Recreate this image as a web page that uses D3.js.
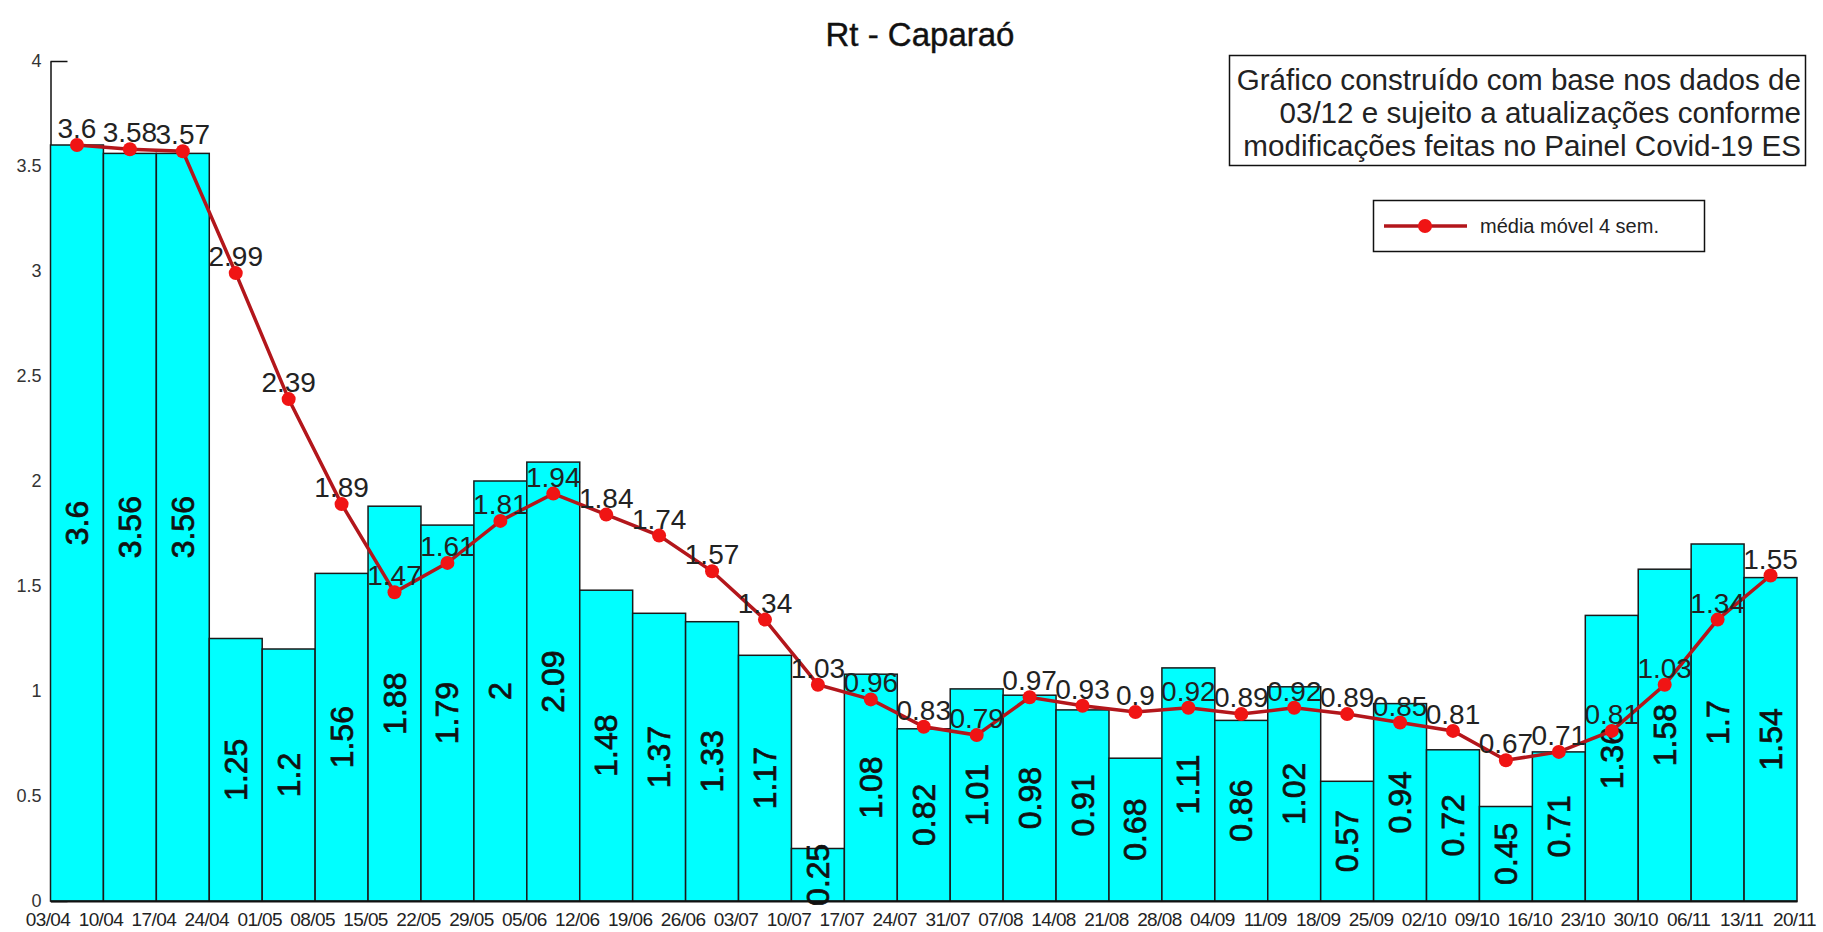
<!DOCTYPE html>
<html>
<head>
<meta charset="utf-8">
<script src="https://cdn.jsdelivr.net/npm/d3@7"></script>
<style>
  body { margin: 0; background: #fff; }
  svg { display: block; font-family: "Liberation Sans", Arial, sans-serif; }
</style>
</head>
<body>
<div id="chart"></div>
<script>
// semanas (rótulos nas bordas das barras)
const weeks = ["03/04", "10/04", "17/04", "24/04", "01/05", "08/05", "15/05", "22/05", "29/05",
  "05/06", "12/06", "19/06", "26/06", "03/07", "10/07", "17/07", "24/07", "31/07", "07/08",
  "14/08", "21/08", "28/08", "04/09", "11/09", "18/09", "25/09", "02/10", "09/10", "16/10",
  "23/10", "30/10", "06/11", "13/11", "20/11"];

// Rt semanal (barras)
const rtWeekly = [3.6, 3.56, 3.56, 1.25, 1.2, 1.56, 1.88, 1.79, 2, 2.09, 1.48, 1.37, 1.33, 1.17,
  0.25, 1.08, 0.82, 1.01, 0.98, 0.91, 0.68, 1.11, 0.86, 1.02, 0.57, 0.94, 0.72, 0.45, 0.71,
  1.36, 1.58, 1.7, 1.54];

// média móvel 4 semanas (linha)
const mediaMovel = [3.6, 3.58, 3.57, 2.99, 2.39, 1.89, 1.47, 1.61, 1.81, 1.94, 1.84, 1.74, 1.57,
  1.34, 1.03, 0.96, 0.83, 0.79, 0.97, 0.93, 0.9, 0.92, 0.89, 0.92, 0.89, 0.85, 0.81, 0.67, 0.71,
  0.81, 1.03, 1.34, 1.55];

const yTicks = [0, 0.5, 1, 1.5, 2, 2.5, 3, 3.5, 4];

const noteLines = ["Gráfico construído com base nos dados de",
  "03/12 e sujeito a atualizações conforme",
  "modificações feitas no Painel Covid-19 ES"];

const width = 1823, height = 932;
const plotLeft = 50.5, plotRight = 1797, plotTop = 61, plotBottom = 901;

const svg = d3.select("#chart").append("svg")
  .attr("width", width)
  .attr("height", height);

svg.append("rect").attr("width", width).attr("height", height).attr("fill", "#fff");

const idx = d3.range(rtWeekly.length);

const x = d3.scaleBand().domain(idx).range([plotLeft, plotRight]).padding(0);
const xEdge = d3.scaleLinear().domain([0, rtWeekly.length]).range([plotLeft, plotRight]);
const y = d3.scaleLinear().domain([0, 4]).range([plotBottom, plotTop]);

// título
svg.append("text")
  .attr("x", 920).attr("y", 46)
  .attr("text-anchor", "middle")
  .attr("font-size", 33)
  .attr("fill", "#111")
  .attr("stroke", "#111")
  .attr("stroke-width", 0.4)
  .text("Rt - Caparaó");

// eixo y
const yAxis = svg.append("g")
  .attr("transform", `translate(${plotLeft},0)`)
  .call(d3.axisLeft(y).tickValues(yTicks).tickFormat(d => String(d))
    .tickSizeInner(-17).tickSizeOuter(0).tickPadding(9));
yAxis.select(".domain").attr("stroke", "#111").attr("stroke-width", 1.5);
yAxis.selectAll(".tick line").attr("stroke", "#111").attr("stroke-width", 1.5);
yAxis.selectAll(".tick text")
  .attr("font-size", 18)
  .attr("fill", "#333")
  .attr("font-family", "Liberation Sans, Arial, sans-serif");

// barras
svg.append("g")
  .selectAll("rect")
  .data(idx)
  .join("rect")
  .attr("x", i => x(i))
  .attr("y", i => y(rtWeekly[i]))
  .attr("width", x.bandwidth())
  .attr("height", i => y(0) - y(rtWeekly[i]))
  .attr("fill", "#00ffff")
  .attr("stroke", "#1a1a1a")
  .attr("stroke-width", 1.5);

// eixo x (rótulos nas bordas)
const xAxis = svg.append("g")
  .attr("transform", `translate(0,${plotBottom})`)
  .call(d3.axisBottom(xEdge).tickValues(d3.range(weeks.length)).tickFormat(i => weeks[i])
    .tickSize(0).tickPadding(12));
xAxis.select(".domain").attr("stroke", "#111").attr("stroke-width", 2);
xAxis.selectAll(".tick text")
  .attr("font-size", 19)
  .attr("fill", "#222")
  .attr("letter-spacing", -0.6)
  .attr("font-family", "Liberation Sans, Arial, sans-serif")
  .attr("dx", -3);

// rótulos das barras
svg.append("g")
  .selectAll("text")
  .data(idx)
  .join("text")
  .attr("transform", i => `translate(${x(i) + x.bandwidth() / 2},${(y(rtWeekly[i]) + y(0)) / 2}) rotate(-90)`)
  .attr("text-anchor", "middle")
  .attr("dominant-baseline", "central")
  .attr("font-size", 32)
  .attr("fill", "#111")
  .attr("stroke", "#111")
  .attr("stroke-width", 0.7)
  .text(i => rtWeekly[i]);

// linha da média móvel
const line = d3.line()
  .x(i => x(i) + x.bandwidth() / 2)
  .y(i => y(mediaMovel[i]));

svg.append("path")
  .datum(idx)
  .attr("d", line)
  .attr("fill", "none")
  .attr("stroke", "#b3161b")
  .attr("stroke-width", 3.5);

svg.append("g")
  .selectAll("circle")
  .data(idx)
  .join("circle")
  .attr("cx", i => x(i) + x.bandwidth() / 2)
  .attr("cy", i => y(mediaMovel[i]))
  .attr("r", 7)
  .attr("fill", "#f01414");

svg.append("g")
  .selectAll("text")
  .data(idx)
  .join("text")
  .attr("x", i => x(i) + x.bandwidth() / 2)
  .attr("y", i => y(mediaMovel[i]) - 7)
  .attr("text-anchor", "middle")
  .attr("font-size", 28)
  .attr("fill", "#222")
  .text(i => mediaMovel[i]);

// caixa de observação
svg.append("rect")
  .attr("x", 1229.5).attr("y", 55.5)
  .attr("width", 576).attr("height", 110)
  .attr("fill", "#fff")
  .attr("stroke", "#111")
  .attr("stroke-width", 1.5);

svg.append("g")
  .selectAll("text")
  .data(noteLines)
  .join("text")
  .attr("x", 1801)
  .attr("y", (d, i) => 90 + i * 33)
  .attr("text-anchor", "end")
  .attr("font-size", 29.6)
  .attr("fill", "#222")
  .text(d => d);

// legenda
const legend = svg.append("g");
legend.append("rect")
  .attr("x", 1373.5).attr("y", 200.5)
  .attr("width", 331).attr("height", 51)
  .attr("fill", "#fff")
  .attr("stroke", "#111")
  .attr("stroke-width", 1.5);
legend.append("line")
  .attr("x1", 1384).attr("x2", 1467)
  .attr("y1", 226).attr("y2", 226)
  .attr("stroke", "#b3161b")
  .attr("stroke-width", 3.5);
legend.append("circle")
  .attr("cx", 1425).attr("cy", 226).attr("r", 7)
  .attr("fill", "#f01414");
legend.append("text")
  .attr("x", 1480).attr("y", 233)
  .attr("font-size", 20)
  .attr("fill", "#222")
  .text("média móvel 4 sem.");
</script>
</body>
</html>
